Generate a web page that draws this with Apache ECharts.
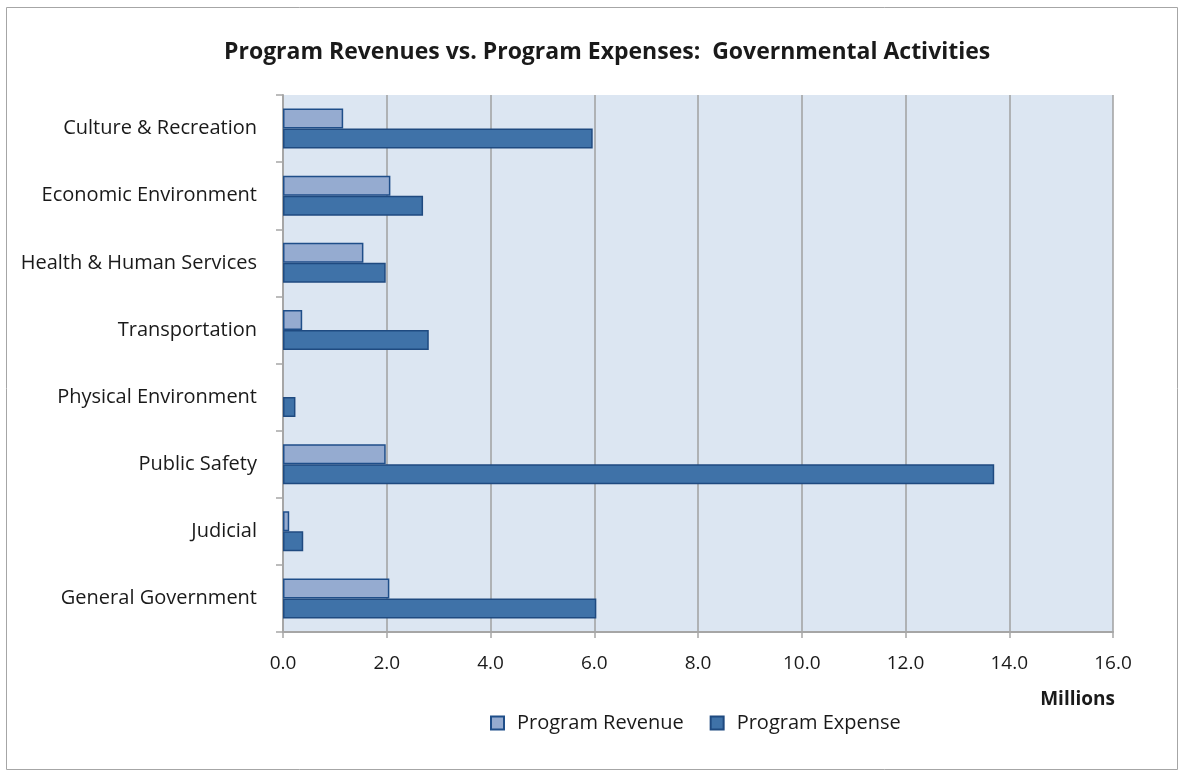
<!DOCTYPE html>
<html>
<head>
<meta charset="utf-8">
<script src="https://cdn.jsdelivr.net/npm/echarts@6/dist/echarts.min.js"></script>
<style>
  html, body { margin: 0; padding: 0; background: #ffffff; }
  #chart { width: 1184px; height: 776px; }
</style>
</head>
<body>
<div id="chart"></div>
<script>
// Functions listed top to bottom as they appear on the chart
const categories = [
  'Culture & Recreation',
  'Economic Environment',
  'Health & Human Services',
  'Transportation',
  'Physical Environment',
  'Public Safety',
  'Judicial',
  'General Government'
];
// Values in millions of dollars
const programRevenue = [1.16, 2.07, 1.55, 0.37, 0, 1.98, 0.12, 2.05];
const programExpense = [5.97, 2.70, 1.98, 2.81, 0.24, 13.71, 0.39, 6.04];
const xTicks = { min: 0, max: 16, interval: 2 };

// Zero amounts draw no bar at all
const asBars = arr => arr.map(v => (v === 0 ? '-' : v));

const FONT = '"Open Sans", sans-serif';
const chart = echarts.init(document.getElementById('chart'));

chart.setOption({
  backgroundColor: '#ffffff',
  animation: false,
  title: {
    text: 'Program Revenues vs. Program Expenses:  Governmental Activities',
    left: 219,
    top: 36,
    textStyle: { fontFamily: FONT, fontSize: 23, fontWeight: 'bold', color: '#1a1a1a' }
  },
  legend: {
    data: ['Program Revenue', 'Program Expense'],
    left: 485,
    top: 708,
    icon: 'rect',
    itemWidth: 13,
    itemHeight: 13,
    itemGap: 26,
    textStyle: { fontFamily: FONT, fontSize: 20, color: '#1a1a1a', padding: [0, 0, 0, 8] }
  },
  graphic: [
    {
      type: 'rect',
      shape: { x: 6.5, y: 7.5, width: 1171, height: 762 },
      style: { fill: 'none', stroke: '#a6a6a6', lineWidth: 1 },
      silent: true
    },
    {
      type: 'text',
      right: 69,
      top: 690,
      style: { text: 'Millions', fontFamily: FONT, fontSize: 19, fontWeight: 'bold', fill: '#1a1a1a' }
    }
  ],
  grid: {
    left: 283,
    right: 71,
    top: 95,
    bottom: 144,
    show: true,
    backgroundColor: '#dce6f2',
    borderWidth: 0
  },
  xAxis: {
    type: 'value',
    min: xTicks.min,
    max: xTicks.max,
    interval: xTicks.interval,
    axisLine: { show: true, lineStyle: { color: '#a6a6a6', width: 2 } },
    axisTick: { show: true, length: 6, lineStyle: { color: '#a6a6a6', width: 1.5 } },
    axisLabel: {
      margin: 22,
      fontFamily: FONT,
      fontSize: 19,
      color: '#1a1a1a',
      formatter: v => v.toFixed(1)
    },
    splitLine: { show: true, lineStyle: { color: '#a0a0a0', width: 1.5 } }
  },
  yAxis: {
    type: 'category',
    data: categories,
    inverse: true,
    axisLine: { show: true, lineStyle: { color: '#a6a6a6', width: 2 } },
    axisTick: { show: true, length: 7, lineStyle: { color: '#a6a6a6', width: 1.5 } },
    axisLabel: {
      margin: 26,
      fontFamily: FONT,
      fontSize: 20,
      color: '#1a1a1a'
    },
    splitLine: { show: false }
  },
  series: [
    {
      name: 'Program Revenue',
      type: 'bar',
      data: asBars(programRevenue),
      barWidth: 20,
      barGap: '0%',
      itemStyle: { color: '#95abd0', borderColor: '#1f4e89', borderWidth: 1.5 }
    },
    {
      name: 'Program Expense',
      type: 'bar',
      data: asBars(programExpense),
      barWidth: 20,
      barGap: '0%',
      itemStyle: { color: '#3f72a8', borderColor: '#1f4a80', borderWidth: 1.5 }
    }
  ]
});
</script>
</body>
</html>
